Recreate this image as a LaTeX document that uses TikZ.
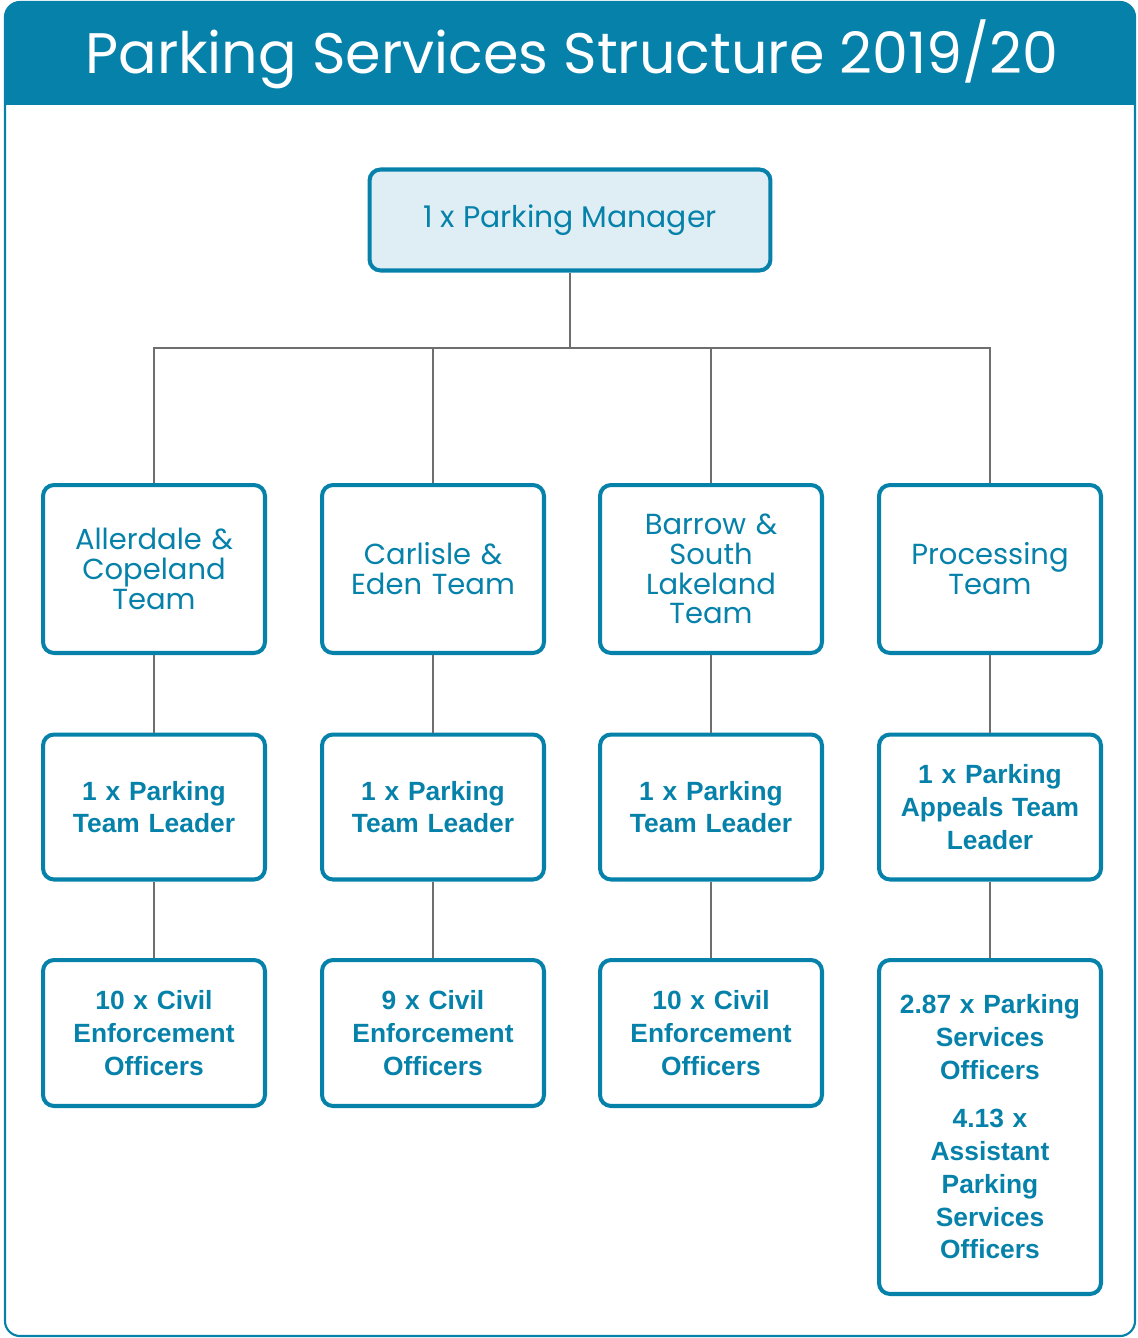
\documentclass[tikz,border=0pt]{standalone}
\usepackage{fontspec}
\setmainfont{Liberation Sans}
\newfontfamily\lightfont{Poppins}
\usepackage{tikz}
\usetikzlibrary{positioning}
\definecolor{psteal}{HTML}{0682AA}
\definecolor{pslight}{HTML}{DFEEF5}
\definecolor{psline}{HTML}{6E6E6E}
\tikzset{
  orgbox/.style={draw=psteal, line width=2.3pt, rounded corners=0.22cm, fill=white,
    align=center, text=psteal, inner sep=2pt},
  teambox/.style={orgbox, minimum width=4.44cm, minimum height=3.36cm, text width=4.2cm,
    font=\lightfont\fontsize{16.5}{17}\selectfont},
  leadbox/.style={orgbox, minimum width=4.44cm, minimum height=2.9cm, text width=4.2cm,
    font=\bfseries\fontsize{15}{18.7}\selectfont},
  link/.style={draw=psline, line width=1.4pt}
}
\begin{document}
\begin{tikzpicture}[x=0.02cm, y=-0.02cm]
            \useasboundingbox (0,0) rectangle (1137,1338);
            % frame and title
            \fill[psteal, rounded corners=0.3cm] (5,2) rectangle (1135,105);
            \fill[psteal] (5,60) rectangle (1135,105);
            \draw[psteal, line width=1.2pt, rounded corners=0.3cm] (5,2) rectangle (1135,1336);
            \node[text=white, font=\lightfont\fontsize{32.5}{36}\selectfont] (title) at (572,54) {Parking Services Structure 2019/20};

            \node[orgbox, fill=pslight, minimum width=8.02cm, minimum height=2.02cm,
                  font=\lightfont\fontsize{17}{19}\selectfont] (mgr) at (570,220) {1 x Parking Manager};

            \node[teambox] at (154,569) (team1) {Allerdale \&\\Copeland\\Team};
            \node[teambox] at (433,569) (team2) {Carlisle \&\\Eden Team};
            \node[teambox] at (711,569) (team3) {Barrow \&\\South\\Lakeland\\Team};
            \node[teambox] at (990,569) (team4) {Processing\\Team};

            \node[leadbox] at (154,807) (lead1) {1 x Parking\\Team Leader};
            \node[leadbox] at (433,807) (lead2) {1 x Parking\\Team Leader};
            \node[leadbox] at (711,807) (lead3) {1 x Parking\\Team Leader};
            \node[leadbox] at (990,807) (lead4) {1 x Parking\\Appeals Team\\Leader};

            \node[leadbox, minimum height=2.92cm] at (154,1033) (staff1) {10 x Civil\\Enforcement\\Officers};
            \node[leadbox, minimum height=2.92cm] at (433,1033) (staff2) {9 x Civil\\Enforcement\\Officers};
            \node[leadbox, minimum height=2.92cm] at (711,1033) (staff3) {10 x Civil\\Enforcement\\Officers};
            \node[leadbox, minimum height=6.68cm] at (990,1127) (staff4) {2.87 x Parking\\Services\\Officers\\[0.3cm]4.13 x\\Assistant\\Parking\\Services\\Officers};

            \coordinate (bus) at (570,348);
            \draw[link] (mgr) -- (bus);
            \foreach \i in {1,2,3,4} {
                \draw[link] (bus) -| (team\i.north);
                \draw[link] (team\i) -- (lead\i);
                \draw[link] (lead\i) -- (staff\i);
            }
        \end{tikzpicture}
\end{document}
